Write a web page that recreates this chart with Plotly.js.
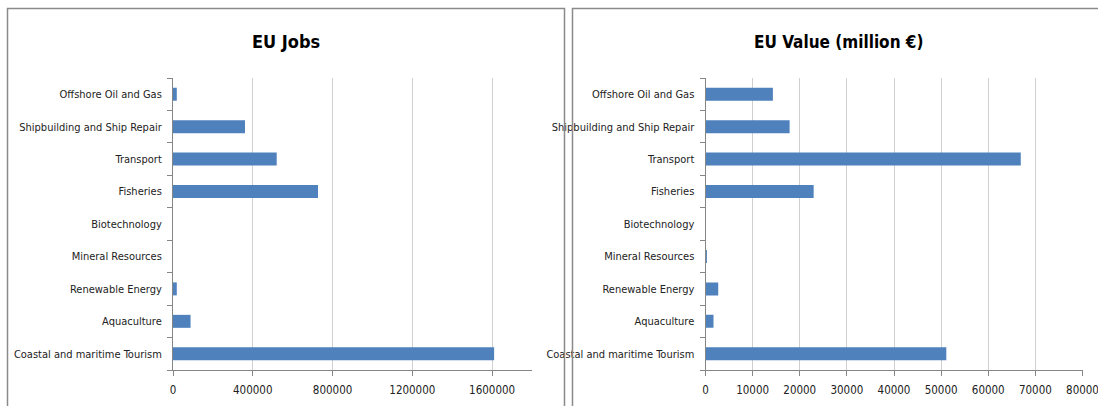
<!DOCTYPE html>
<html>
<head>
<meta charset="utf-8">
<script src="https://cdn.plot.ly/plotly-3.0.1.min.js"></script>
<style>html,body{margin:0;padding:0;background:#fff;}#chart{width:1098px;height:406px;}</style>
</head>
<body>
<div id="chart"></div>
<script>
// Categories listed bottom to top
const categories = [
  "Coastal and maritime Tourism",
  "Aquaculture",
  "Renewable Energy",
  "Mineral Resources",
  "Biotechnology",
  "Fisheries",
  "Transport",
  "Shipbuilding and Ship Repair",
  "Offshore Oil and Gas"
];
const jobs = [1610000, 88000, 19000, 0, 0, 727000, 520000, 361000, 19000];
const valueMillionEur = [51100, 1700, 2700, 300, 0, 22950, 66900, 17850, 14300];
const jobsTicks = [0, 400000, 800000, 1200000, 1600000];
const valueTicks = [0, 10000, 20000, 30000, 40000, 50000, 60000, 70000, 80000];

const W = 1098, H = 406;
const px = v => v / W;
const py = v => 1 - v / H;

const font = "'DejaVu Sans Condensed', 'Liberation Sans', sans-serif";
const barColor = "#4f81bd";

const traces = [
  {type: "bar", orientation: "h", y: categories, x: jobs, xaxis: "x", yaxis: "y",
   marker: {color: barColor, line: {width: 0}}, hoverinfo: "x+y"},
  {type: "bar", orientation: "h", y: categories, x: valueMillionEur, xaxis: "x2", yaxis: "y2",
   marker: {color: barColor, line: {width: 0}}, hoverinfo: "x+y"}
];

const yDomain = [py(370), py(78)];
const xAxisCommon = {
  showline: true, linecolor: "#868686", linewidth: 1,
  showgrid: true, gridcolor: "#d0d0d0", gridwidth: 1,
  zeroline: false, ticks: "outside", ticklen: 5, tickcolor: "#868686",
  tickfont: {family: font, size: 11.5, color: "#222"}, ticklabeloverflow: "allow",
  ticklabelstandoff: 4, fixedrange: true
};
const yAxisCommon = {
  type: "category", showline: true, linecolor: "#868686", linewidth: 1,
  showgrid: false, zeroline: false, ticks: "outside", ticklen: 5, tickcolor: "#868686",
  tickson: "boundaries", tickfont: {family: font, size: 11, color: "#222"},
  ticklabelstandoff: 8, domain: yDomain, fixedrange: true
};

const layout = {
  width: W, height: H,
  margin: {l: 0, r: 0, t: 0, b: 0},
  paper_bgcolor: "#fff", plot_bgcolor: "#fff",
  showlegend: false, bargap: 0.6,
  xaxis: Object.assign({}, xAxisCommon, {domain: [px(173), px(532)], range: [0, 1800000],
    tickmode: "array", tickvals: jobsTicks, ticktext: jobsTicks.map(String), anchor: "y"}),
  yaxis: Object.assign({}, yAxisCommon, {anchor: "x", categoryorder: "array", categoryarray: categories}),
  xaxis2: Object.assign({}, xAxisCommon, {domain: [px(705.5), px(1082.5)], range: [0, 80000],
    tickmode: "array", tickvals: valueTicks, ticktext: valueTicks.map(String), anchor: "y2"}),
  yaxis2: Object.assign({}, yAxisCommon, {anchor: "x2", categoryorder: "array", categoryarray: categories}),
  annotations: [
    {text: "<b>EU Jobs</b>", xref: "paper", yref: "paper", x: px(286), y: py(42),
     showarrow: false, font: {family: font, size: 18, color: "#000"}, xanchor: "center", yanchor: "middle"},
    {text: "<b>EU Value (million €)</b>", xref: "paper", yref: "paper", x: px(838), y: py(42),
     showarrow: false, font: {family: font, size: 17, color: "#000"}, xanchor: "center", yanchor: "middle"}
  ],
  shapes: [
    {type: "rect", xref: "paper", yref: "paper", x0: px(7.5), x1: px(564.5), y0: py(420), y1: py(8.5),
     line: {color: "#8a8a8a", width: 1.5}, fillcolor: "rgba(0,0,0,0)"},
    {type: "rect", xref: "paper", yref: "paper", x0: px(572.5), x1: px(1110), y0: py(420), y1: py(8.5),
     line: {color: "#8a8a8a", width: 1.5}, fillcolor: "rgba(0,0,0,0)"}
  ]
};

Plotly.newPlot("chart", traces, layout, {displayModeBar: false, staticPlot: true});
</script>
</body>
</html>
